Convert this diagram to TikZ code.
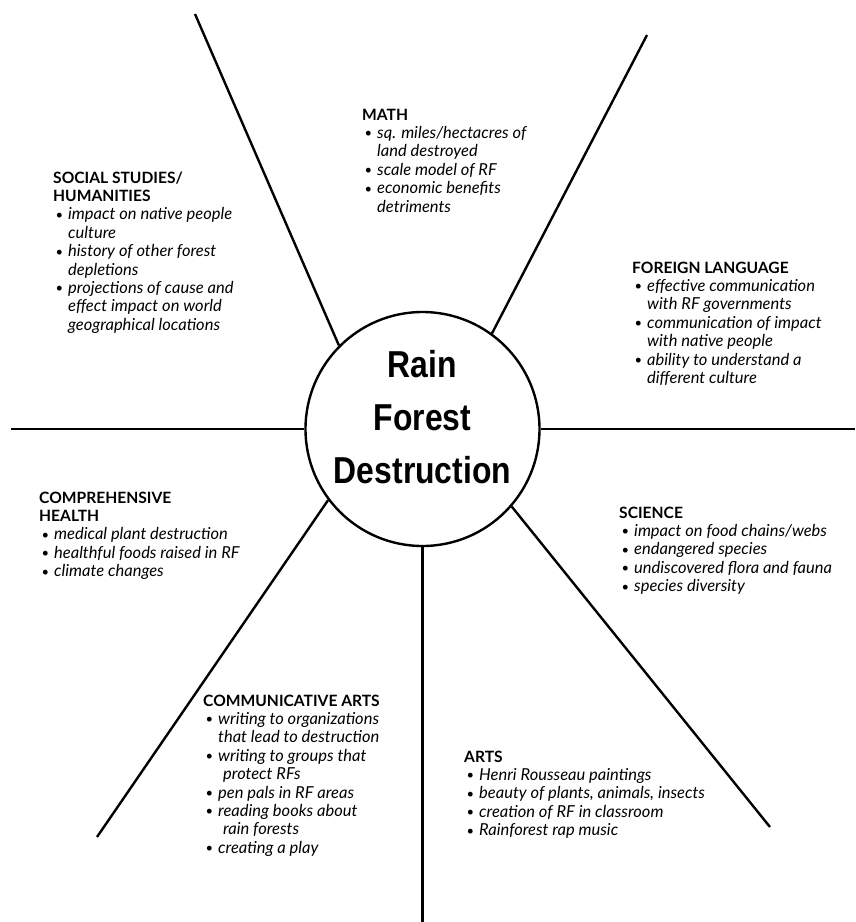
\documentclass[tikz,border=0pt]{standalone}
\usepackage{graphicx}
\usepackage{fontspec}
\setmainfont{Lato}
\newfontfamily\titlefont{Liberation Sans}
\newcommand\bul{\makebox[15pt][l]{\hspace{2.5pt}\raisebox{0.6pt}{\fontsize{13}{13}\selectfont\textbullet}}}
\newcommand\itm[1]{\smash{\bul\textit{#1}}}
\newcommand\cnt[1]{\smash{\hspace*{15pt}\textit{#1}}}
\newcommand\cntt[1]{\smash{\hspace*{20pt}\textit{#1}}}
\newcommand\hd[1]{\smash{\fontsize{15.6}{18.4}\selectfont\bfseries #1}}
\begin{document}
\begin{tikzpicture}[x=1pt,y=-1pt,
  spoke/.style={line width=2.4pt},
  blk/.style={anchor=base west, inner sep=0pt, font=\fontsize{16.5}{18.4}\selectfont},
  ttl/.style={anchor=base, inner sep=0pt, font=\titlefont\bfseries\fontsize{37.5}{53}\selectfont}]
\useasboundingbox (0,0) rectangle (855,922);
\fill[white] (0,0) rectangle (855,922);
% center circle
\node[circle, draw, line width=2.4pt, minimum size=234pt, inner sep=0pt] (c) at (422.5,429) {};
\node[ttl] (title) at (422.5,377) {\scalebox{0.85}[1]{\begin{tabular}[t]{@{}c@{}}Rain\\Forest\\Destruction\end{tabular}}};
% outer ends
\coordinate (o1) at (195,14);
\coordinate (o2) at (647,35);
\coordinate (o3) at (11,429);
\coordinate (o4) at (855,429);
\coordinate (o5) at (97,837);
\coordinate (o6) at (422.5,922);
\coordinate (o7) at (770,827);
\draw[spoke] (o1) -- (c.135.7);
\draw[spoke] (o2) -- (c.54.8);
\draw[spoke] (o3) -- (c.180);
\draw[spoke] (o4) -- (c.0);
\draw[spoke] (o5) -- (c.217.4);
\draw[spoke] (o6) -- (c.270);
\draw[spoke] (o7) -- (c.319.5);
% text blocks
\node[blk] (math) at (362,120) {\begin{tabular}[t]{@{}l@{}}
\hd{MATH}\\
\itm{sq. miles/hectacres of}\\
\cnt{land destroyed}\\
\itm{scale model of RF}\\
\itm{economic benefits}\\
\cnt{detriments}
\end{tabular}};
\node[blk] (social) at (53,183) {\begin{tabular}[t]{@{}l@{}}
\hd{SOCIAL STUDIES/}\\
\hd{HUMANITIES}\\
\itm{impact on native people}\\
\cnt{culture}\\
\itm{history of other forest}\\
\cnt{depletions}\\
\itm{projections of cause and}\\
\cnt{effect impact on world}\\
\cnt{geographical locations}
\end{tabular}};
\node[blk] (foreign) at (632,273) {\begin{tabular}[t]{@{}l@{}}
\hd{FOREIGN LANGUAGE}\\
\itm{effective communication}\\
\cnt{with RF governments}\\
\itm{communication of impact}\\
\cnt{with native people}\\
\itm{ability to understand a}\\
\cnt{different culture}
\end{tabular}};
\node[blk] (health) at (39,503) {\begin{tabular}[t]{@{}l@{}}
\hd{COMPREHENSIVE}\\
\hd{HEALTH}\\
\itm{medical plant destruction}\\
\itm{healthful foods raised in RF}\\
\itm{climate changes}
\end{tabular}};
\node[blk] (science) at (619,518) {\begin{tabular}[t]{@{}l@{}}
\hd{SCIENCE}\\
\itm{impact on food chains/webs}\\
\itm{endangered species}\\
\itm{undiscovered flora and fauna}\\
\itm{species diversity}
\end{tabular}};
\node[blk] (comm) at (203,706) {\begin{tabular}[t]{@{}l@{}}
\hd{COMMUNICATIVE ARTS}\\
\itm{writing to organizations}\\
\cnt{that lead to destruction}\\
\itm{writing to groups that}\\
\cntt{protect RFs}\\
\itm{pen pals in RF areas}\\
\itm{reading books about}\\
\cntt{rain forests}\\
\itm{creating a play}
\end{tabular}};
\node[blk] (arts) at (464,762) {\begin{tabular}[t]{@{}l@{}}
\hd{ARTS}\\
\itm{Henri Rousseau paintings}\\
\itm{beauty of plants, animals, insects}\\
\itm{creation of RF in classroom}\\
\itm{Rainforest rap music}
\end{tabular}};
\end{tikzpicture}
\end{document}
